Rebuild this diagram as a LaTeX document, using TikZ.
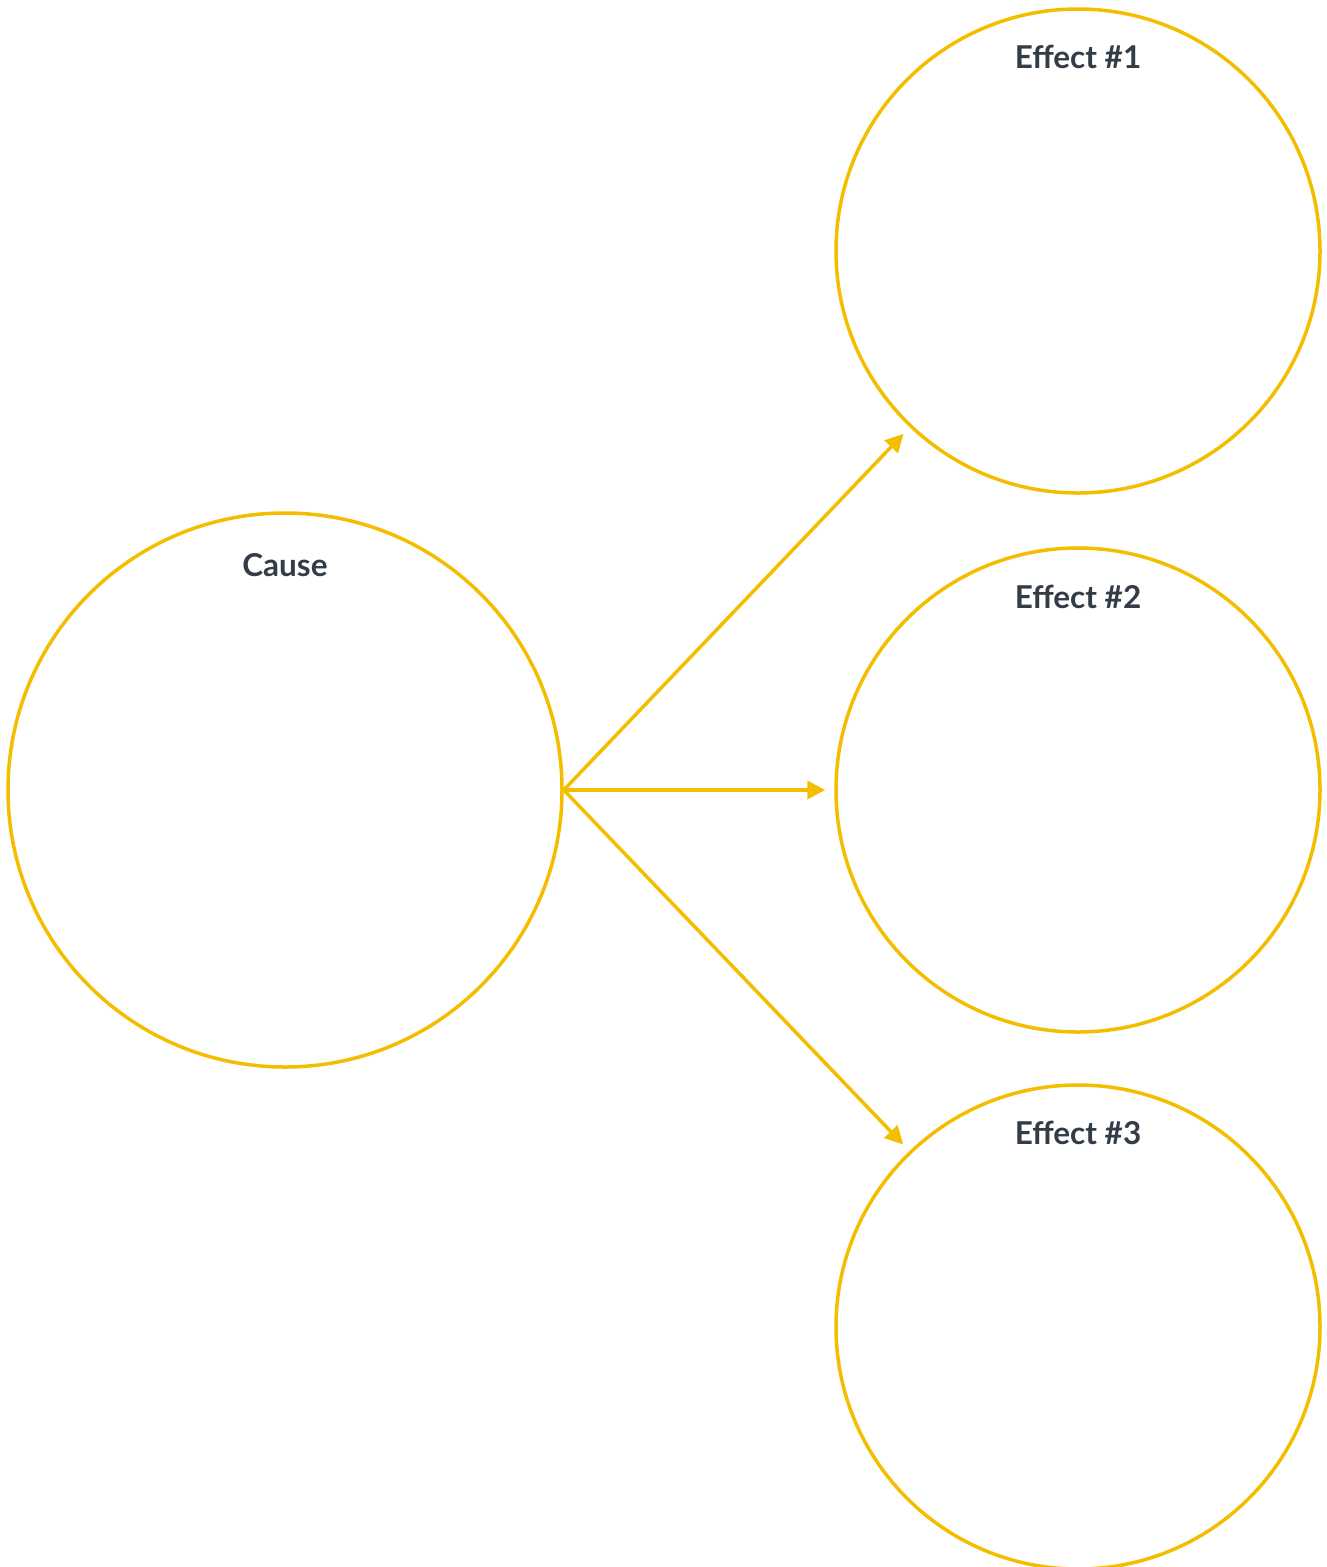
\documentclass[tikz,border=0pt]{standalone}
\usepackage{fontspec}
\setmainfont{Lato}
\usetikzlibrary{arrows.meta}
\definecolor{cy}{HTML}{F4BE00}
\definecolor{ct}{HTML}{333D47}
\begin{document}
\begin{tikzpicture}[x=1pt,y=-1pt,
  bub/.style={circle,draw=cy,line width=3.5pt,inner sep=0pt},
  lab/.style={anchor=base,text=ct,font=\bfseries\fontsize{31.5}{36}\selectfont},
  conn/.style={draw=cy,line width=3.5pt,-{Triangle[length=18pt,width=18pt]},shorten >=9pt}]
\useasboundingbox (0,0) rectangle (1327,1567);
\node[bub,minimum size=554pt] (cause) at (285,790) {};
\node[bub,minimum size=484pt] (e1) at (1078,251) {};
\node[bub,minimum size=484pt] (e2) at (1078,790) {};
\node[bub,minimum size=484pt] (e3) at (1078,1327) {};
\node[lab] (lc) at (285,576) {Cause};
\node[lab] (l1) at (1078,68) {Effect \#1};
\node[lab] (l2) at (1078,608) {Effect \#2};
\node[lab] (l3) at (1078,1144) {Effect \#3};
\draw[conn] (cause.east) -- (e1);
\draw[conn] (cause.east) -- (e2);
\draw[conn] (cause.east) -- (e3);
\end{tikzpicture}
\end{document}
